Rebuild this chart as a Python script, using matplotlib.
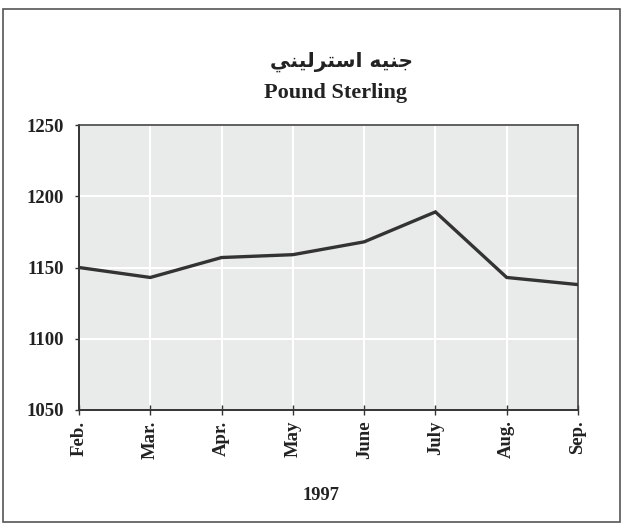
import matplotlib
matplotlib.use("Agg")
import matplotlib.pyplot as plt
from matplotlib.patches import Rectangle

months = ["Feb.", "Mar.", "Apr.", "May", "June", "July", "Aug.", "Sep."]
values = [1150, 1143, 1157, 1159, 1168, 1189, 1143, 1138]
yticks = [1050, 1100, 1150, 1200, 1250]
title_ar = "\uFEF2\uFEE8\uFEF4\uFEDF\uFEAE\uFE98\uFEB3\uFE8D \uFEEA\uFEF4\uFEE8\uFE9F"  # جنيه استرليني (visual order)
title_en = "Pound Sterling"
xlabel = "1997"

W, H = 623, 527
fig = plt.figure(figsize=(W / 100, H / 100), dpi=100)
fig.patch.set_facecolor("white")

# outer frame
fig.patches.append(Rectangle((3 / W, 1 - 522 / H), 617 / W, 513 / H, transform=fig.transFigure,
                             fill=False, edgecolor="#555555", linewidth=1.2))

ax = fig.add_axes([79 / W, 1 - 410 / H, 499 / W, 285 / H])
ax.set_facecolor("#e9ebeb")
x = list(range(len(months)))
ax.plot(x, values, color="#333333", linewidth=2.4, solid_joinstyle="miter", zorder=3)
ax.set_xlim(0, len(months) - 1)
ax.set_ylim(1050, 1250)
ax.set_yticks(yticks)
ax.set_yticklabels([str(v) for v in yticks])
ax.set_xticks(x)
ax.set_xticklabels(months, rotation=90)
ax.grid(True, color="white", linewidth=1.5, zorder=1)
ax.set_axisbelow(True)

serif = ["Liberation Serif", "DejaVu Serif"]
for lab in ax.get_yticklabels() + ax.get_xticklabels():
    lab.set_fontfamily(serif)
    lab.set_fontweight("bold")
    lab.set_fontsize(13.5)
    lab.set_color("#222222")
ax.tick_params(axis="y", direction="out", length=3, width=1, pad=8, colors="#333333", labelcolor="#222222")
ax.tick_params(axis="x", direction="inout", length=7, width=1, pad=4, colors="#333333", labelcolor="#222222")
for side in ["left", "bottom"]:
    ax.spines[side].set_color("#333333")
    ax.spines[side].set_linewidth(1.4)
for side in ["top", "right"]:
    ax.spines[side].set_color("#444444")
    ax.spines[side].set_linewidth(1.2)

fig.text(342 / W, 1 - 62 / H, title_ar, ha="center", va="center",
         fontfamily=["DejaVu Sans"], fontweight="bold", fontsize=14.5, color="#222222")
fig.text(336 / W, 1 - 98 / H, title_en, ha="center", va="baseline",
         fontfamily=serif, fontweight="bold", fontsize=16, color="#222222")
fig.text(321 / W, 1 - 495 / H, xlabel, ha="center", va="center",
         fontfamily=serif, fontweight="bold", fontsize=13.3, color="#222222")

fig.savefig("out.png", dpi=100)
